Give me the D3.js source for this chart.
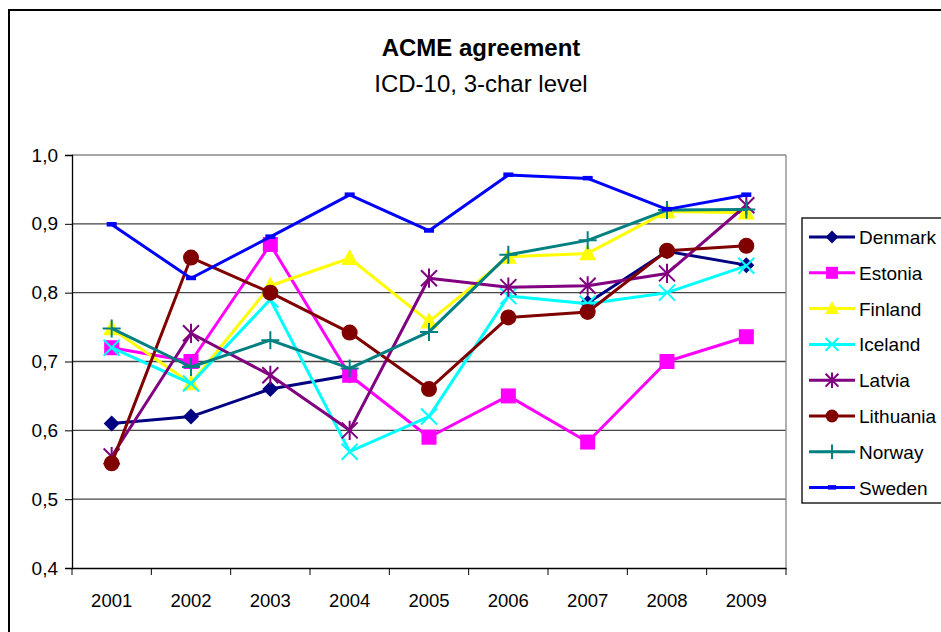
<!DOCTYPE html>
<html>
<head>
<meta charset="utf-8">
<script src="https://d3js.org/d3.v7.min.js"></script>
<title>ACME agreement</title>
<style>
body { margin: 0; background: #fff; }
text { font-family: "Liberation Sans", Arial, sans-serif; }
</style>
</head>
<body>
<script>

var years = ["2001", "2002", "2003", "2004", "2005", "2006", "2007", "2008", "2009"];
var yTicks = [0.4, 0.5, 0.6, 0.7, 0.8, 0.9, 1.0];

var denmark   = [0.61, 0.62, 0.66, 0.68, null, null, 0.785, 0.86, 0.84];
var estonia   = [0.72, 0.70, 0.87, 0.68, 0.59, 0.65, 0.583, 0.70, 0.736];
var finland   = [0.748, 0.668, 0.81, 0.85, 0.758, 0.852, 0.857, 0.918, 0.916];
var iceland   = [0.72, 0.668, 0.79, 0.569, 0.62, 0.795, 0.784, 0.80, 0.839];
var latvia    = [0.562, 0.741, 0.68, 0.60, 0.821, 0.808, 0.81, 0.828, 0.927];
var lithuania = [0.552, 0.851, 0.80, 0.742, 0.66, 0.764, 0.772, 0.861, 0.868];
var norway    = [0.748, 0.692, 0.731, 0.69, 0.743, 0.855, 0.876, 0.92, 0.921];
var sweden    = [0.899, 0.821, 0.881, 0.942, 0.89, 0.971, 0.966, 0.921, 0.942];

var series = [
  { name: "Denmark",   values: denmark,   color: "#000080", marker: "diamond" },
  { name: "Estonia",   values: estonia,   color: "#ff00ff", marker: "square" },
  { name: "Finland",   values: finland,   color: "#ffff00", marker: "triangle" },
  { name: "Iceland",   values: iceland,   color: "#00ffff", marker: "x" },
  { name: "Latvia",    values: latvia,    color: "#800080", marker: "star" },
  { name: "Lithuania", values: lithuania, color: "#800000", marker: "circle" },
  { name: "Norway",    values: norway,    color: "#008080", marker: "plus" },
  { name: "Sweden",    values: sweden,    color: "#0000ff", marker: "dash" }
];

var width = 941, height = 632;
var plotLeft = 72, plotRight = 786, plotTop = 155, plotBottom = 568;

var svg = d3.select("body").append("svg")
  .attr("width", width)
  .attr("height", height);

// outer chart border
svg.append("rect")
  .attr("x", 9).attr("y", 10)
  .attr("width", 950).attr("height", 640)
  .attr("fill", "#fff")
  .attr("stroke", "#000")
  .attr("stroke-width", 2);

svg.append("text")
  .attr("x", 481).attr("y", 56)
  .attr("text-anchor", "middle")
  .attr("font-size", 24).attr("font-weight", "bold")
  .text("ACME agreement");

svg.append("text")
  .attr("x", 481).attr("y", 92)
  .attr("text-anchor", "middle")
  .attr("font-size", 24)
  .text("ICD-10, 3-char level");

var x = d3.scaleBand().domain(years).range([plotLeft, plotRight]);
var y = d3.scaleLinear().domain([0.4, 1.0]).range([plotBottom, plotTop]);

// gridlines
svg.append("g").selectAll("line")
  .data(yTicks.slice(1))
  .enter().append("line")
  .attr("x1", plotLeft).attr("x2", plotRight)
  .attr("y1", function(d) { return y(d); })
  .attr("y2", function(d) { return y(d); })
  .attr("stroke", function(d) { return d === 1.0 ? "#888" : "#444"; })
  .attr("stroke-width", 1.3);

// right border of plot area
svg.append("line")
  .attr("x1", plotRight).attr("x2", plotRight)
  .attr("y1", plotTop).attr("y2", plotBottom)
  .attr("stroke", "#888").attr("stroke-width", 1.3);

var yAxis = svg.append("g")
  .attr("transform", "translate(" + plotLeft + ",0)")
  .call(d3.axisLeft(y).tickValues(yTicks).tickSize(7).tickPadding(7)
    .tickFormat(function(d) { return d3.format(".1f")(d).replace(".", ","); }));
yAxis.selectAll("text").attr("font-size", 19).attr("font-family", "Liberation Sans, Arial, sans-serif").attr("fill", "#000");
yAxis.select(".domain").attr("stroke", "#000").attr("stroke-width", 1.3);
yAxis.selectAll(".tick line").attr("stroke", "#000");

var xAxis = svg.append("g")
  .attr("transform", "translate(0," + plotBottom + ")")
  .call(d3.axisBottom(x).tickSize(0).tickPadding(26));
xAxis.selectAll("text").attr("font-size", 18.5).attr("font-family", "Liberation Sans, Arial, sans-serif").attr("fill", "#000");
xAxis.select(".domain").attr("stroke", "#000").attr("stroke-width", 1.5);

// category separators on the x axis
svg.append("g").selectAll("line")
  .data(years.concat(["end"]))
  .enter().append("line")
  .attr("x1", function(d, i) { return plotLeft + i * x.bandwidth(); })
  .attr("x2", function(d, i) { return plotLeft + i * x.bandwidth(); })
  .attr("y1", plotBottom).attr("y2", plotBottom + 7)
  .attr("stroke", "#000").attr("stroke-width", 1);

function drawMarker(g, type, color, cx, cy, scale) {
  var s = scale || 1;
  if (type === "diamond") {
    var r = 8 * s;
    g.append("path").attr("d", "M" + cx + "," + (cy - r) + "L" + (cx + r) + "," + cy + "L" + cx + "," + (cy + r) + "L" + (cx - r) + "," + cy + "Z")
      .attr("fill", color);
  } else if (type === "square") {
    var h = 7.5 * s;
    g.append("rect").attr("x", cx - h).attr("y", cy - h).attr("width", 2 * h).attr("height", 2 * h).attr("fill", color);
  } else if (type === "triangle") {
    var t = 8.5 * s;
    g.append("path").attr("d", "M" + cx + "," + (cy - t * 1.1) + "L" + (cx + t) + "," + (cy + t * 0.8) + "L" + (cx - t) + "," + (cy + t * 0.8) + "Z")
      .attr("fill", color);
  } else if (type === "circle") {
    g.append("circle").attr("cx", cx).attr("cy", cy).attr("r", 8 * s).attr("fill", color);
  } else if (type === "x") {
    var a = 8 * s;
    g.append("path").attr("d", "M" + (cx - a) + "," + (cy - a) + "L" + (cx + a) + "," + (cy + a) + "M" + (cx - a) + "," + (cy + a) + "L" + (cx + a) + "," + (cy - a))
      .attr("stroke", color).attr("stroke-width", 2).attr("fill", "none");
  } else if (type === "star") {
    var b = 8 * s;
    g.append("path").attr("d", "M" + (cx - b) + "," + (cy - b) + "L" + (cx + b) + "," + (cy + b) + "M" + (cx - b) + "," + (cy + b) + "L" + (cx + b) + "," + (cy - b) + "M" + cx + "," + (cy - b * 1.2) + "L" + cx + "," + (cy + b * 1.2))
      .attr("stroke", color).attr("stroke-width", 2).attr("fill", "none");
  } else if (type === "plus") {
    var p = 9 * s;
    g.append("path").attr("d", "M" + (cx - p) + "," + cy + "L" + (cx + p) + "," + cy + "M" + cx + "," + (cy - p) + "L" + cx + "," + (cy + p))
      .attr("stroke", color).attr("stroke-width", 2).attr("fill", "none");
  } else if (type === "dash") {
    g.append("rect").attr("x", cx - 5 * s).attr("y", cy - 2.5).attr("width", 10 * s).attr("height", 4.5).attr("fill", color);
  }
}

var line = d3.line()
  .defined(function(d) { return d != null; })
  .x(function(d, i) { return x(years[i]) + x.bandwidth() / 2; })
  .y(function(d) { return y(d); });

series.forEach(function(s) {
  var g = svg.append("g");
  g.append("path")
    .attr("d", line(s.values))
    .attr("fill", "none")
    .attr("stroke", s.color)
    .attr("stroke-width", 3)
    .attr("stroke-linejoin", "round");
  s.values.forEach(function(v, i) {
    if (v == null) return;
    drawMarker(g, s.marker, s.color, x(years[i]) + x.bandwidth() / 2, y(v));
  });
});

// legend
var legend = svg.append("g");
legend.append("rect")
  .attr("x", 802).attr("y", 218)
  .attr("width", 160).attr("height", 285)
  .attr("fill", "#fff")
  .attr("stroke", "#000").attr("stroke-width", 1.3);

series.forEach(function(s, i) {
  var ly = 237 + i * 35.8;
  legend.append("line")
    .attr("x1", 809).attr("x2", 855)
    .attr("y1", ly).attr("y2", ly)
    .attr("stroke", s.color).attr("stroke-width", 3);
  drawMarker(legend, s.marker, s.color, 832, ly, 0.8);
  legend.append("text")
    .attr("x", 859).attr("y", ly + 7)
    .attr("font-size", 19)
    .text(s.name);
});

</script>
</body>
</html>
